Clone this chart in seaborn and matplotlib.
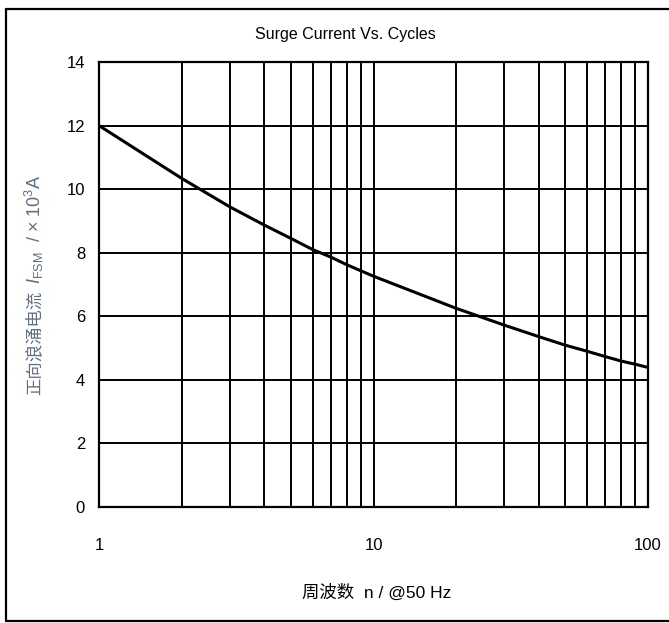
import numpy as np
import pandas as pd
import seaborn as sns
import matplotlib
matplotlib.use('Agg')
import matplotlib.pyplot as plt
from matplotlib.lines import Line2D
from matplotlib.ticker import MultipleLocator, FixedLocator, NullLocator

# values
cycles = [1, 2, 3, 4, 5, 6, 7, 8, 9, 10, 15, 20, 30, 40, 50, 60, 70, 80, 90, 100]
surge_ka = [12.0, 10.34, 9.44, 8.87, 8.45, 8.10, 7.86, 7.62, 7.43, 7.26, 6.67,
            6.25, 5.72, 5.36, 5.09, 4.90, 4.73, 4.59, 4.49, 4.39]
x_ticks = [1, 10, 100]
x_grid = [2, 3, 4, 5, 6, 7, 8, 9, 20, 30, 40, 50, 60, 70, 80, 90]
y_ticks = [0, 2, 4, 6, 8, 10, 12, 14]

sns.set_style('white')
plt.rcParams['font.family'] = ['Liberation Sans', 'Noto Sans CJK SC', 'DejaVu Sans']
plt.rcParams['mathtext.fontset'] = 'custom'
plt.rcParams['mathtext.rm'] = 'Liberation Sans'
plt.rcParams['mathtext.it'] = 'Liberation Sans:italic'

df = pd.DataFrame({'n': cycles, 'I': surge_ka})

fig = plt.figure(figsize=(6.69, 6.23), dpi=100)
ax = fig.add_axes([99 / 669, 1 - 507 / 623, 549 / 669, 445 / 623])

sns.lineplot(data=df, x='n', y='I', ax=ax, color='black', linewidth=2.2)
ax.set_xscale('log')
ax.set_xlim(1, 100)
ax.set_ylim(0, 14)

# grid drawn as plain lines so every log subdivision shows
for xv in x_grid + [10]:
    ax.axvline(xv, color='black', linewidth=1.4, zorder=1)
for yv in y_ticks[1:-1]:
    ax.axhline(yv, color='black', linewidth=1.4, zorder=1)

ax.xaxis.set_major_locator(FixedLocator(x_ticks))
ax.xaxis.set_minor_locator(NullLocator())
ax.set_xticklabels([str(v) for v in x_ticks])
ax.yaxis.set_major_locator(FixedLocator(y_ticks))
ax.yaxis.set_minor_locator(MultipleLocator(0.4))
ax.tick_params(axis='x', which='major', length=0, pad=22, labelsize=12, colors='black')
ax.tick_params(axis='y', which='major', direction='in', length=0, pad=10,
               labelsize=12, colors='black')
ax.tick_params(axis='y', which='minor', direction='in', length=5, width=1.2, color='black')
for s in ax.spines.values():
    s.set_visible(True)
    s.set_color('black')
    s.set_linewidth(1.6)

ax.set_xlabel('')
ax.set_ylabel('')

fig.text(345 / 669, 1 - 34 / 623, 'Surge Current Vs. Cycles', ha='center', va='center',
         fontsize=11.5, color='black')
fig.text(377 / 669, 1 - 592 / 623, '周波数  n / @50 Hz', ha='center', va='center',
         fontsize=12.5, color='black')
# y label in two pieces: CJK text and the symbol part (mathtext has no CJK fallback)
ylab_color = '#5f6f80'
fig.text(34 / 669, 1 - 343 / 623, '正向浪涌电流', ha='center', va='center', rotation=90,
         fontsize=12.5, color=ylab_color, family=['Noto Sans CJK SC'])
fig.text(34 / 669, 1 - 229 / 623, '$I_{\\mathrm{FSM}}$  / × 10$^3$A', ha='center', va='center',
         rotation=90, fontsize=13, color=ylab_color)

# outer frame of the figure
fig.add_artist(Line2D([6 / 669, 6 / 669], [1 - 621 / 623, 1 - 9 / 623], color='black', linewidth=1.6))
fig.add_artist(Line2D([6 / 669, 1.0], [1 - 9 / 623, 1 - 9 / 623], color='black', linewidth=1.6))
fig.add_artist(Line2D([6 / 669, 1.0], [1 - 621 / 623, 1 - 621 / 623], color='black', linewidth=1.6))

fig.savefig('out.png', dpi=100)
